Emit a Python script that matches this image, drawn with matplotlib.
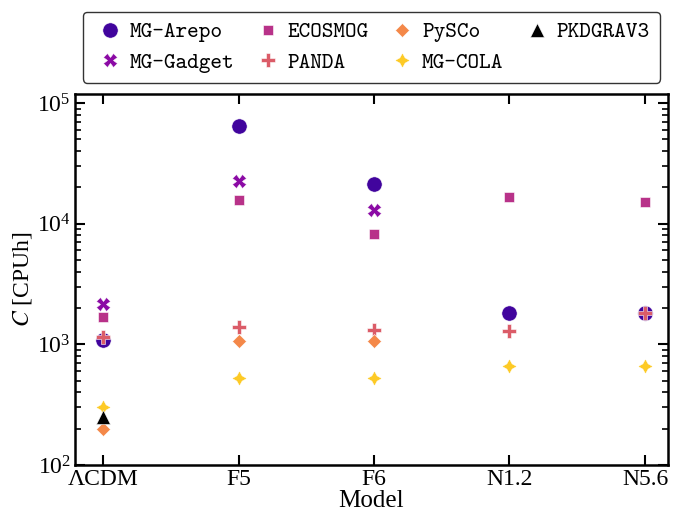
import numpy as np
import matplotlib
matplotlib.use('Agg')
import matplotlib.pyplot as plt

plt.rcParams['font.family'] = ['Liberation Serif', 'DejaVu Serif']
plt.rcParams['mathtext.fontset'] = 'stix'

nan = np.nan
models = ['ΛCDM', 'F5', 'F6', 'N1.2', 'N5.6']
arepo = [1080, 65000, 21300, 1810, 1830]
gadget = [2150, 22600, 13000, nan, nan]
ecosmog = [1700, 15800, 8200, 16700, 15200]
panda = [1150, 1400, 1310, 1290, 1830]
pysco = [200, 1070, 1070, nan, nan]
mgcola = [300, 530, 530, 656, 656]
pkdgrav3 = [250, nan, nan, nan, nan]

# label, values, marker, colour, size
series = [
    ('MG-Arepo', arepo, 'o', '#41049d', 11),
    ('MG-Gadget', gadget, 'X', '#8b0aa5', 9.8),
    ('ECOSMOG', ecosmog, 's', '#b83289', 7.6),
    ('PANDA', panda, 'P', '#db5c68', 10.4),
    ('PySCo', pysco, 'D', '#f48849', 7.4),
    ('MG-COLA', mgcola, (4, 1, 0), '#fdca26', 10.8),
    ('PKDGRAV3', pkdgrav3, '^', 'black', 9.6),
]

fig = plt.figure(figsize=(6.73, 5.15), dpi=100)
ax = fig.add_axes([0.1114, 0.0971, 0.8812, 0.7204])

x = np.arange(len(models))
for lab, vals, mk, col, ms in series:
    ax.plot(x, vals, ls='none', marker=mk, color=col, ms=ms,
            mec='white', mew=0.4, label=lab)

ax.set_yscale('log')
ax.set_ylim(100, 1.19e5)
ax.set_xlim(-0.207, 4.17)
ax.set_xticks(x)
ax.set_xticklabels(models)
ax.set_xlabel('Model', fontsize=18, labelpad=0)
ax.set_ylabel(r'$C$ [CPUh]', fontsize=17, labelpad=2)

ax.tick_params(which='both', direction='in', top=True, right=True,
               labelsize=17, width=1.5)
ax.tick_params(which='major', length=7, pad=3)
ax.tick_params(which='minor', length=4, width=1.2)
ax.tick_params(axis='x', which='minor', top=False, bottom=False)
for sp in ax.spines.values():
    sp.set_linewidth(1.8)

leg = ax.legend(loc='lower center', bbox_to_anchor=(0.5, 1.03), ncol=4,
                prop={'family': 'cmtt10', 'size': 16}, frameon=True,
                fancybox=True, edgecolor='#333333', framealpha=1,
                handletextpad=0.15, columnspacing=0.75, borderpad=0.45,
                labelspacing=0.45, handlelength=1.5, borderaxespad=0)
leg.get_frame().set_linewidth(1.0)

fig.savefig('out.png', dpi=100)
